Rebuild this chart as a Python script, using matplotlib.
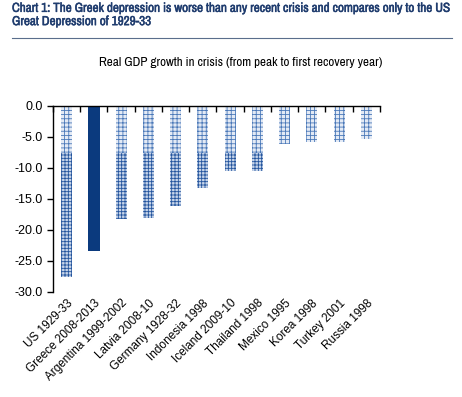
import matplotlib
matplotlib.use("Agg")
import matplotlib.pyplot as plt
import numpy as np
from matplotlib.lines import Line2D
from matplotlib import font_manager
import matplotlib.patheffects as pe

categories = ["US 1929-33", "Greece 2008-2013", "Argentina 1999-2002", "Latvia 2008-10",
              "Germany 1928-32", "Indonesia 1998", "Iceland 2009-10", "Thailand 1998",
              "Mexico 1995", "Korea 1998", "Turkey 2001", "Russia 1998"]
values = [-27.6, -23.5, -18.3, -18.1, -16.1, -13.2, -10.6, -10.5, -6.2, -5.8, -5.8, -5.4]
yticks = [0, -5, -10, -15, -20, -25, -30]

# look for a narrow font if available (used for title texts)
narrow = None
for f in font_manager.fontManager.ttflist:
    if 'Narrow' in f.name or 'Condensed' in f.name:
        narrow = f.name
        break
title_fams = ([narrow] if narrow else []) + ['Liberation Sans', 'DejaVu Sans']
plt.rcParams['font.family'] = ['Liberation Sans', 'DejaVu Sans']
plt.rcParams['hatch.linewidth'] = 0.6

fig = plt.figure(figsize=(4.62, 3.97), dpi=100)
ax = fig.add_axes([53/462, 1-291.7/397, (380-53)/462, (291.7-105.7)/397])

x = np.arange(len(categories))
split = -7.7
for i, v in enumerate(values):
    if categories[i].startswith('Greece'):
        ax.bar(x[i], v, width=0.45, color='#0b3a7e', edgecolor='none')
    else:
        ax.bar(x[i], v, width=0.4, facecolor='#e3eaf5', edgecolor='#4a78b8', hatch='++++', linewidth=0)
        lower = min(v, split)
        ax.bar(x[i], lower - split, bottom=split, width=0.4, facecolor='#c7d5ea',
               edgecolor='#24559e', hatch='+++++', linewidth=0)

ax.set_xlim(-0.5, len(categories) - 0.5)
ax.set_ylim(-30, 0)
ax.set_yticks(yticks)
ax.set_yticklabels([f"{t:.1f}" for t in yticks])
for s in ['right', 'bottom']:
    ax.spines[s].set_visible(False)
ax.spines['top'].set_linewidth(1.0)
ax.spines['left'].set_linewidth(1.0)

ax.set_xticks(np.arange(len(categories) + 1) - 0.5)
ax.set_xticklabels([])
ax.tick_params(axis='x', which='major', top=True, bottom=False, direction='in', length=4, width=1)
ax.set_xticks(x, minor=True)
ax.set_xticklabels(categories, minor=True, rotation=45, ha='right', rotation_mode='anchor', fontsize=8.5)
ax.tick_params(axis='x', which='minor', length=0, pad=4)
ax.tick_params(axis='y', direction='out', length=4, width=1, labelsize=9)

t1 = fig.text(12/462, 1-15/397, "Chart 1: The Greek depression is worse than any recent crisis and compares only to the US\nGreat Depression of 1929-33",
              ha='left', va='center', fontsize=10, color='#1f3c6e', fontweight='bold', linespacing=1.25,
              family=title_fams)
t1.set_path_effects([pe.withStroke(linewidth=0.35, foreground='#1f3c6e')])
fig.add_artist(Line2D([12/462, 452/462], [1-38/397, 1-38/397], color='#5a6e8c', lw=0.8))
t2 = fig.text(241/462, 1-63/397, "Real GDP growth in crisis (from peak to first recovery year)",
              ha='center', va='center', fontsize=10, color='black', family=title_fams)

fig.canvas.draw()
r = fig.canvas.get_renderer()
for t, target in [(t1, 440), (t2, 285)]:
    w = t.get_window_extent(r).width
    if w > target:
        t.set_fontsize(t.get_fontsize() * target / w)

fig.savefig("out.png", dpi=100)
